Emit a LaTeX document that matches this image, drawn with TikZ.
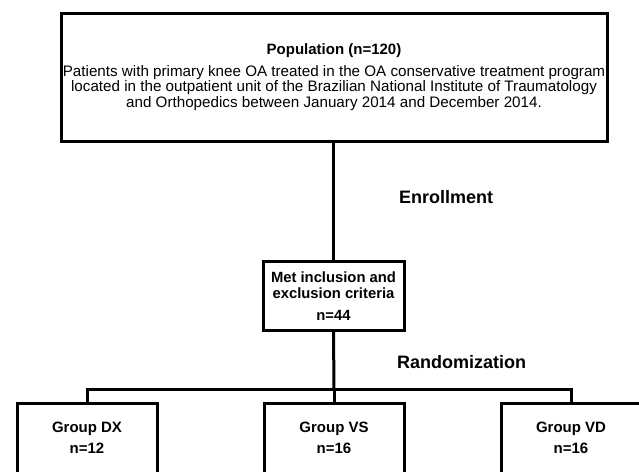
\documentclass[tikz,border=0pt]{standalone}
\usepackage{fontspec}
\setmainfont{Liberation Sans}
\begin{document}
\begin{tikzpicture}[x=1pt,y=-1pt,
  box/.style={draw=black, line width=3pt, fill=white, inner sep=0pt, align=center, line join=miter},
  link/.style={draw=black, line width=3pt, line join=miter},
  lbl/.style={font=\fontsize{18}{20}\selectfont\bfseries, anchor=west, inner sep=0pt}
]
\useasboundingbox (0,0) rectangle (639,471);
\clip (0,0) rectangle (639,471);
\node[box, minimum width=546pt, minimum height=128pt] (top) at (334,77)
  {{\fontsize{15}{16}\selectfont\bfseries Population (n=120)}\\[7pt]
   \fontsize{15.2}{15}\selectfont Patients with primary knee OA treated in the OA conservative treatment program\\
   \fontsize{15.2}{15}\selectfont located in the outpatient unit of the Brazilian National Institute of Traumatology\\
   \fontsize{15.2}{15}\selectfont and Orthopedics between January 2014 and December 2014.};
\node[box, minimum width=141pt, minimum height=69pt, font=\fontsize{14.8}{16}\selectfont\bfseries] (mid) at (333.5,296)
  {Met inclusion and\\exclusion criteria\\[6pt]n=44};
\node[box, minimum width=140pt, minimum height=70pt, font=\fontsize{15}{21}\selectfont\bfseries] (dx) at (87,438)
  {Group DX\\n=12};
\node[box, minimum width=140pt, minimum height=70pt, font=\fontsize{15}{21}\selectfont\bfseries] (vs) at (334,438)
  {Group VS\\n=16};
\node[box, minimum width=140pt, minimum height=70pt, font=\fontsize{15}{21}\selectfont\bfseries] (vd) at (571,438)
  {Group VD\\n=16};
\node[lbl] (enr) at (399,197) {Enrollment};
\node[lbl] (rnd) at (397,362) {Randomization};
\coordinate (j) at (334,389);
\coordinate (jl) at (87,389);
\coordinate (jr) at (571,389);
\draw[link] (top.south -| mid.north) -- (mid.north);
\draw[link] (mid.south) -- (j);
\draw[link] (dx.north) -- (jl) -- (jr) -- (vd.north);
\draw[link] (j) -- (vs.north);
\end{tikzpicture}
\end{document}
